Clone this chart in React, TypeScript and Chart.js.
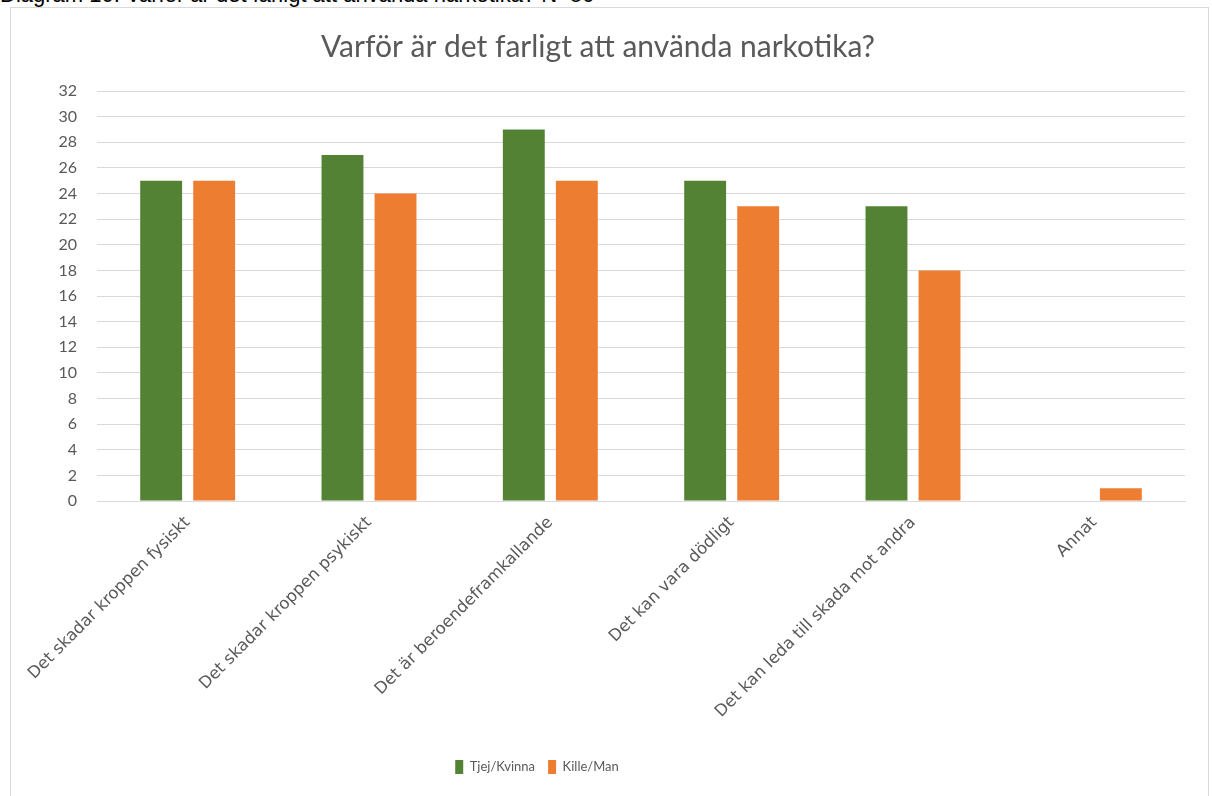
import React, { useEffect, useRef } from "react";
import Chart from "chart.js/auto";

const categories: string[] = [
  "Det skadar kroppen fysiskt",
  "Det skadar kroppen psykiskt",
  "Det är beroendeframkallande",
  "Det kan vara dödligt",
  "Det kan leda till skada mot andra",
  "Annat",
];
const tjejKvinna: number[] = [25, 27, 29, 25, 23, 0];
const killeMan: number[] = [25, 24, 25, 23, 18, 1];
const seriesNames: string[] = ["Tjej/Kvinna", "Kille/Man"];
const yTicks: number[] = [0, 2, 4, 6, 8, 10, 12, 14, 16, 18, 20, 22, 24, 26, 28, 30, 32];
const chartTitle = "Varför är det farligt att använda narkotika?";
const caption = "Diagram 10. Varför är det farligt att använda narkotika? N=50";

const FONT = "Lato, 'Open Sans', sans-serif";
const GRAY = "#595959";

const legendShift = {
  id: "legendShift",
  afterLayout(chart: any) {
    const lg = chart.legend;
    if (!lg) return;
    lg.left -= 61;
    lg.right -= 61;
  },
};

export default function App() {
  const ref = useRef<HTMLCanvasElement | null>(null);

  useEffect(() => {
    document.body.style.margin = "0";
    if (!ref.current) return;
    const chart = new Chart(ref.current, {
      type: "bar",
      data: {
        labels: categories,
        datasets: [
          {
            label: seriesNames[0],
            data: tjejKvinna,
            backgroundColor: "#548235",
            borderColor: "#548235",
            categoryPercentage: 0.585,
            barPercentage: 0.79,
          },
          {
            label: seriesNames[1],
            data: killeMan,
            backgroundColor: "#ED7D31",
            borderColor: "#ED7D31",
            categoryPercentage: 0.585,
            barPercentage: 0.79,
          },
        ],
      },
      plugins: [legendShift],
      options: {
        animation: false,
        responsive: false,
        maintainAspectRatio: false,
        layout: { padding: { left: 0, right: 23, top: 0, bottom: 12 } },
        plugins: {
          title: {
            display: true,
            text: chartTitle,
            color: GRAY,
            font: { family: FONT, size: 30, weight: "normal" as any },
            padding: { top: 21, bottom: 26 },
          },
          legend: {
            position: "bottom",
            labels: {
              color: GRAY,
              font: { family: FONT, size: 13 },
              boxWidth: 8,
              boxHeight: 14,
              padding: 13,
            },
          },
          tooltip: { enabled: false },
        },
        scales: {
          x: {
            grid: { display: false },
            border: { display: true, color: "#d9d9d9" },
            ticks: {
              color: GRAY,
              font: { family: "'DejaVu Sans', Verdana, sans-serif", size: 16.5 },
              minRotation: 45,
              maxRotation: 45,
              autoSkip: false,
              padding: 4,
            },
            afterFit: (axis: any) => {
              axis.height = 246;
            },
          },
          y: {
            min: 0,
            max: 32,
            afterBuildTicks: (axis: any) => {
              axis.ticks = yTicks.map((v) => ({ value: v }));
            },
            grid: { color: "#d9d9d9", drawTicks: false, lineWidth: 1 },
            border: { display: false },
            ticks: {
              color: GRAY,
              font: { family: FONT, size: 16 },
              padding: 20,
            },
            afterFit: (axis: any) => {
              axis.width = 86;
            },
          },
        },
      },
    });
    return () => chart.destroy();
  }, []);

  return (
    <div style={{ position: "relative", width: 1212, height: 796, overflow: "hidden", background: "#fff" }}>
      <div
        style={{
          position: "absolute",
          left: 0,
          top: -18,
          fontFamily: "'Liberation Sans', Arial, sans-serif",
          fontSize: 22,
          color: "#000",
          whiteSpace: "nowrap",
        }}
      >
        {caption}
      </div>
      <div
        style={{
          position: "absolute",
          left: 10,
          top: 7,
          width: 1197,
          height: 800,
          border: "1px solid #d9d9d9",
          background: "#fff",
        }}
      >
        <canvas ref={ref} width={1197} height={788} style={{ display: "block" }} />
      </div>
    </div>
  );
}
